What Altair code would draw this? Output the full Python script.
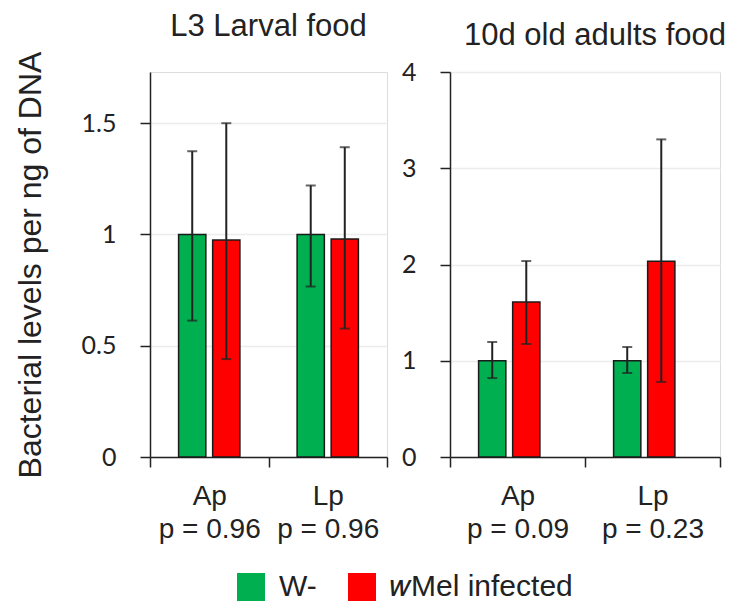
import altair as alt
import pandas as pd

panel_titles = ["L3 Larval food", "10d old adults food"]
bacteria = ["Ap", "Lp"]
groups = ["W-", "wMel infected"]
colors = ["#00B050", "#FF0000"]

# order: Ap W-, Ap wMel, Lp W-, Lp wMel
larval_mean = [1.00, 0.975, 1.00, 0.98]
larval_low = [0.613, 0.44, 0.766, 0.577]
larval_high = [1.374, 1.50, 1.22, 1.392]
larval_p = ["0.96", "0.96"]

adult_mean = [1.00, 1.61, 1.00, 2.035]
adult_low = [0.82, 1.174, 0.873, 0.78]
adult_high = [1.195, 2.036, 1.143, 3.30]
adult_p = ["0.09", "0.23"]

FONT = "Liberation Sans"
TICKFONT = "Lato"
INK = "#222222"


def make_df(mean, low, high):
    rows = []
    i = 0
    for b in bacteria:
        for g in groups:
            rows.append({"bacterium": b, "group": g, "value": mean[i], "low": low[i], "high": high[i]})
            i += 1
    return pd.DataFrame(rows)


legend = alt.Legend(
    title=None, orient="none", direction="horizontal", legendX=86, legendY=500,
    symbolType="square", symbolSize=784, symbolStrokeWidth=0, symbolOpacity=1,
    labelFont=FONT, labelFontSize=30, labelColor=INK, labelOffset=13, columnPadding=30,
    labelLimit=400,
    labelExpr="datum.value == 'wMel infected' ? '\U0001D464Mel infected' : datum.value",
)


def panel(df, title, ymax, yvals, pvals, width, ytitle, dx):
    lab = "datum.value == '%s' ? ['%s', 'p = %s'] : datum.value == '%s' ? ['%s', 'p = %s'] : ''" % (
        bacteria[0], bacteria[0], pvals[0], bacteria[1], bacteria[1], pvals[1])
    x = alt.X("bacterium:N", sort=bacteria,
              scale=alt.Scale(paddingInner=0, paddingOuter=0),
              axis=alt.Axis(title=None, labelAngle=0, labelExpr=lab, tickBand="extent",
                            labelFont=FONT, labelFontSize=28, labelLineHeight=33,
                            labelPadding=15, labelColor=INK, tickSize=10, tickWidth=1.5,
                            tickColor=INK, domainColor=INK, domainWidth=1.5, grid=False))
    xo = alt.XOffset("group:N", sort=groups,
                     scale=alt.Scale(paddingInner=0.2, paddingOuter=0.84))
    yaxis = alt.Axis(values=yvals, format=".1~f", labelFont=TICKFONT, labelFontSize=25,
                     labelColor=INK, labelPadding=24, tickSize=10, tickWidth=1.5,
                     tickColor=INK, domainColor=INK, domainWidth=1.5,
                     grid=True, gridColor="#ececec", gridWidth=1.5,
                     title=ytitle if ytitle else None,
                     titleFont=FONT, titleFontSize=32, titleFontWeight="normal",
                     titleColor=INK, titlePadding=34)
    yscale = alt.Scale(domain=[0, ymax], nice=False, zero=True)

    base = alt.Chart(df)
    bars = base.mark_bar(stroke="#1a1a1a", strokeWidth=1.5).encode(
        x=x, xOffset=xo,
        y=alt.Y("value:Q", scale=yscale, axis=yaxis),
        color=alt.Color("group:N", sort=groups,
                        scale=alt.Scale(domain=groups, range=colors), legend=legend),
    )
    rule = base.mark_rule(color=INK, strokeWidth=2).encode(
        x=x, xOffset=xo,
        y=alt.Y("low:Q", scale=yscale, axis=yaxis), y2="high:Q")
    cap_hi = base.mark_tick(color=INK, size=10, thickness=2).encode(
        x=x, xOffset=xo, y=alt.Y("high:Q", scale=yscale, axis=yaxis))
    cap_lo = base.mark_tick(color=INK, size=10, thickness=2).encode(
        x=x, xOffset=xo, y=alt.Y("low:Q", scale=yscale, axis=yaxis))
    return alt.layer(bars, rule, cap_hi, cap_lo).properties(
        width=width, height=385,
        title=alt.TitleParams(title, font=FONT, fontSize=31, fontWeight="normal",
                              color=INK, anchor="middle", offset=8, dx=dx),
    )


left = panel(make_df(larval_mean, larval_low, larval_high), panel_titles[0],
             1.73, [0, 0.5, 1, 1.5], larval_p, 237, "Bacterial levels per ng of DNA", 0)
right = panel(make_df(adult_mean, adult_low, adult_high), panel_titles[1],
              4, [0, 1, 2, 3, 4], adult_p, 270, None, 10)

chart = alt.hconcat(left, right, spacing=11).resolve_scale(color="shared").properties(
    padding={"left": 5, "top": 2, "right": 5, "bottom": 0}
).configure_view(stroke=None).configure(background="white")

chart.save("out.html", embed_options={"renderer": "svg", "actions": False})
